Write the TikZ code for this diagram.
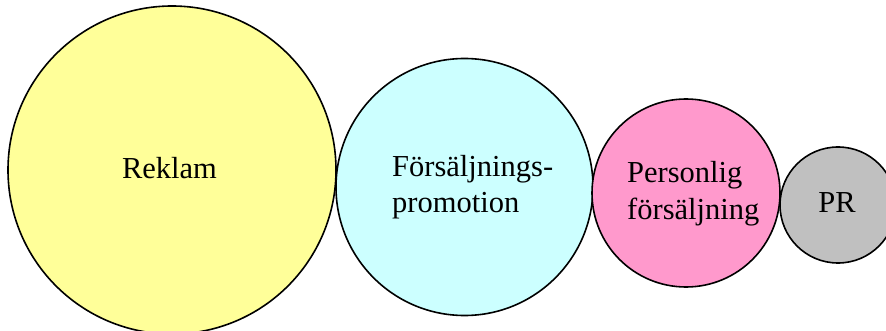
\documentclass[tikz,border=0pt]{standalone}
\usepackage{fontspec}
\setmainfont{Liberation Serif}
\begin{document}
\begin{tikzpicture}[x=1pt,y=-1pt,
  ball/.style={circle, draw=black, line width=1.6pt, inner sep=0pt, outer sep=0pt},
  word/.style={inner sep=0pt, font=\fontsize{30.5}{35}\selectfont}]
  \useasboundingbox (0,0) rectangle (886,331);
  \clip (0,0) rectangle (886,331);
  \definecolor{reklamfill}{HTML}{FFFF99}
  \definecolor{promofill}{HTML}{CCFFFF}
  \definecolor{personfill}{HTML}{FF99CC}
  \definecolor{prfill}{HTML}{C0C0C0}

  % four touching circles, largest to smallest
  \node[ball, fill=reklamfill, minimum size=328pt] (reklam) at (172,170) {};
  \node[ball, fill=promofill, minimum size=257pt] (promo) at (464.5,187) {};
  \node[ball, fill=personfill, minimum size=188pt] (person) at (686,193) {};
  \node[ball, fill=prfill, minimum size=116pt] (pr) at (838,205) {};

  % labels
  \node[word, anchor=base] (treklam) at (169.5,179) {Reklam};
  \node[word, anchor=base west] (tpromo1) at (392,177) {Försäljnings-};
  \node[word, anchor=base west] (tpromo2) at (392,212) {promotion};
  \node[word, anchor=base west] (tperson1) at (627,183) {Personlig};
  \node[word, anchor=base west] (tperson2) at (627,220) {försäljning};
  \node[word, anchor=base] (tpr) at (837,213) {PR};
\end{tikzpicture}
\end{document}
